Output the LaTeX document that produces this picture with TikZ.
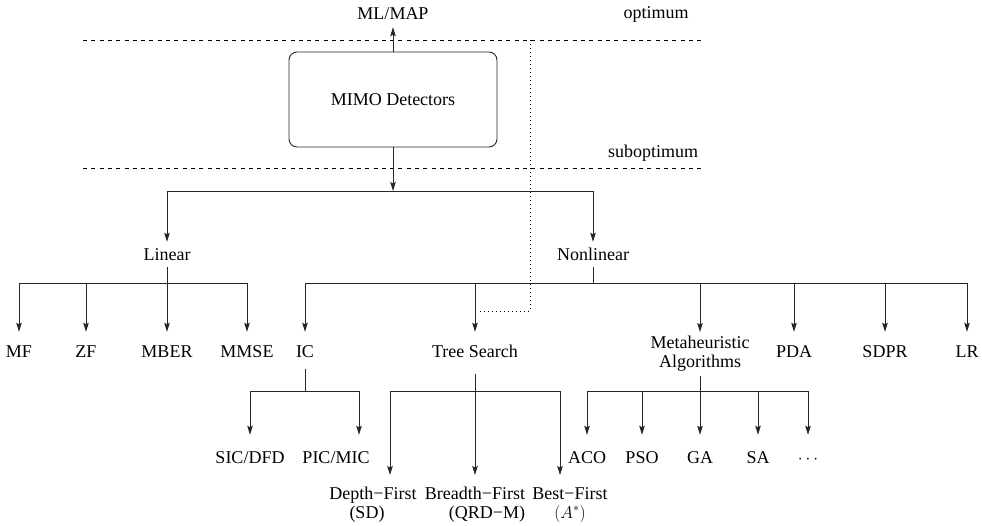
\documentclass[tikz,border=0pt]{standalone}
\usepackage{fontspec}
\setmainfont{Liberation Serif}
\usetikzlibrary{arrows.meta}

\begin{document}
\begin{tikzpicture}[x=1pt,y=-1pt,font=\fontsize{18}{19}\selectfont]
    \useasboundingbox (0,0) rectangle (982,525);
    \tikzset{Label/.style = {inner sep=0pt, anchor=base, text height=25pt, text depth=12pt},
             Multi/.style = {inner xsep=0pt, inner ysep=12pt, anchor=north, align=center},
             EdgeStyle/.style = {line width=0.9pt, draw=black!85},
             Arrow/.style = {EdgeStyle, -{Stealth[length=9pt,width=5.5pt,inset=1.5pt]}},
             Guide/.style = {line width=0.8pt, dash pattern=on 4pt off 4.3pt}}

    \node[Label, text depth=8pt] (ML) at (393,19) {ML/MAP};
    \node[Label] (Opt) at (656,18) {optimum};
    \node[Label] (Subopt) at (653,157) {suboptimum};
    \node[draw, EdgeStyle, rounded corners=8pt, minimum width=208pt, minimum height=95pt] (MIMO) at (393,99.5) {MIMO Detectors};

    \node[Label, text height=18pt, text depth=7pt] (Lin) at (167,260) {Linear};
    \node[Label, text height=18pt, text depth=7pt] (NonLin) at (593,260) {Nonlinear};

    \node[Label] (MF) at (19,357) {MF};
    \node[Label] (ZF) at (86,357) {ZF};
    \node[Label] (MBER) at (167,357) {MBER};
    \node[Label] (MMSE) at (247,357) {MMSE};
    \node[Label] (IC) at (305,357) {IC};
    \node[Label, text depth=17pt] (Tree) at (475,357) {Tree Search};
    \node[Multi, inner ysep=4pt] (Meta) at (700,332) {Metaheuristic\\Algorithms};
    \node[Label] (PDA) at (794,357) {PDA};
    \node[Label] (SDPR) at (885,357) {SDPR};
    \node[Label] (LR) at (967,357) {LR};

    \node[Label, text height=28pt] (SIC) at (250,463) {SIC/DFD};
    \node[Label, text height=28pt] (PIC) at (336,463) {PIC/MIC};
    \node[Label, text height=28pt] (ACO) at (587,463) {ACO};
    \node[Label, text height=28pt] (PSO) at (642,463) {PSO};
    \node[Label, text height=28pt] (GA) at (700,463) {GA};
    \node[Label, text height=28pt] (SA) at (758,463) {SA};
    \node[Label, text height=28pt] (Dots) at (808,463) {$\cdots$};

    \node[Multi] (Depth) at (373,475) {Depth−First\\(SD)\hspace*{12pt}};
    \node[Multi] (Breadth) at (475,475) {Breadth−First\\\hspace*{24pt}(QRD−M)};
    \node[Multi] (Best) at (570,475) {Best−First\\$(A^*)$};

    \coordinate (TopJ) at (393,191);
    \coordinate (LinJ) at (167,283);
    \coordinate (NonJ) at (593,283);
    \coordinate (ICJ) at (305,391);
    \coordinate (TreeJ) at (475,391);
    \coordinate (MetaJ) at (700,391);

    \draw[Guide] (83,40) -- (702,40);
    \draw[Guide] (83,168) -- (702,168);
    \draw[line width=0.7pt, dash pattern=on 1pt off 3pt] (530,40) |- (478,311);

    \draw[Arrow] (MIMO.north) -- (ML.south);
    \draw[Arrow] (MIMO.south) -- (TopJ);
    \draw[Arrow] (TopJ) -| (Lin.north);
    \draw[Arrow] (TopJ) -| (NonLin.north);

    \draw[EdgeStyle] (Lin.south) -- (LinJ);
    \foreach \n in {MF,ZF,MBER,MMSE}
        \draw[Arrow] (LinJ) -| (\n.north);

    \draw[EdgeStyle] (NonLin.south) -- (NonJ);
    \foreach \n in {IC,Tree,Meta,PDA,SDPR,LR}
        \draw[Arrow] (NonJ) -| (\n.north);

    \draw[EdgeStyle] (IC.south) -- (ICJ);
    \draw[Arrow] (ICJ) -| (SIC.north);
    \draw[Arrow] (ICJ) -| ([xshift=23pt]PIC.north);

    \draw[EdgeStyle] (Tree.south) -- (TreeJ);
    \draw[Arrow] (TreeJ) -| ([xshift=17pt]Depth.north);
    \draw[Arrow] (TreeJ) -| (Breadth.north);
    \draw[Arrow] (TreeJ) -| ([xshift=-10pt]Best.north);

    \draw[EdgeStyle] (Meta.south) -- (MetaJ);
    \foreach \n in {ACO,PSO,GA,SA,Dots}
        \draw[Arrow] (MetaJ) -| (\n.north);
\end{tikzpicture}
\end{document}
